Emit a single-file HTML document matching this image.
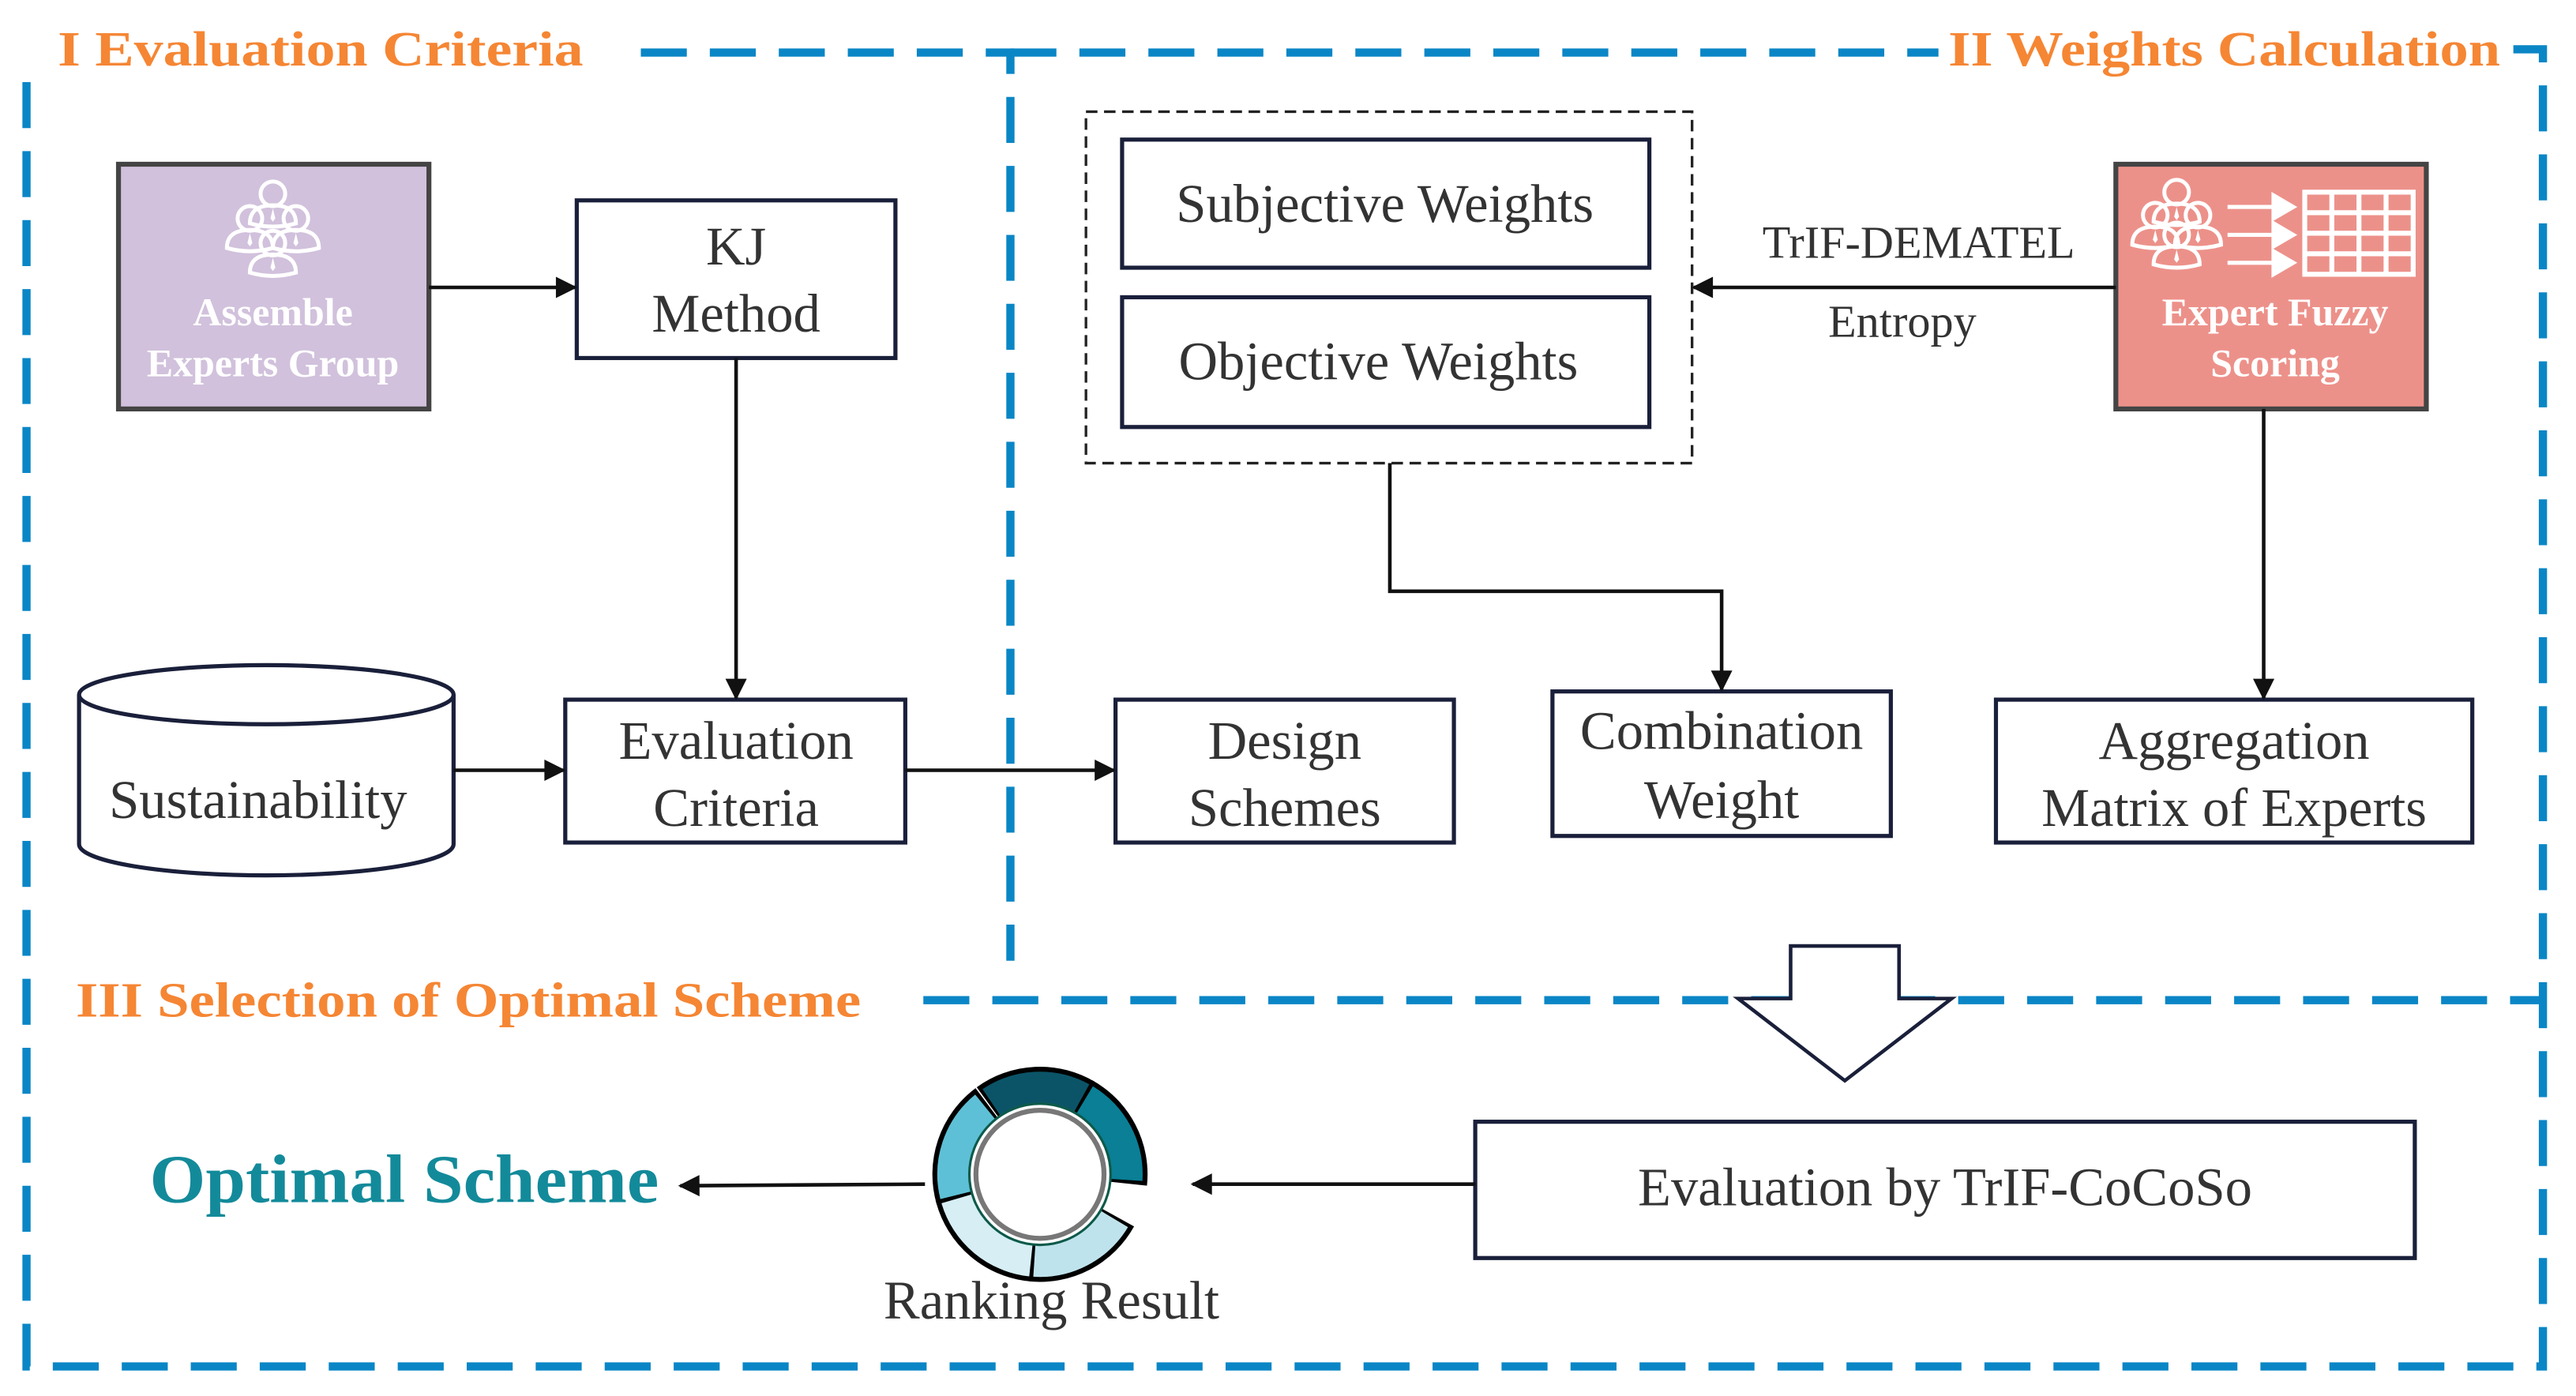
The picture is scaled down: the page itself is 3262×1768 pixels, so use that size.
<!DOCTYPE html>
<html><head><meta charset="utf-8"><style>html,body{margin:0;padding:0;background:#fff}svg{display:block}svg text{font-family:"Liberation Serif","Times New Roman","Nimbus Roman","DejaVu Serif",serif}</style></head>
<body>
<svg width="3262" height="1768" viewBox="0 0 1568 850" xmlns="http://www.w3.org/2000/svg">
<defs>
<marker id="ah" viewBox="0 0 10 10" refX="9" refY="5" markerWidth="14" markerHeight="13" orient="auto-start-reverse" markerUnits="userSpaceOnUse" style="overflow:visible">
<path d="M0,0 L10,5 L0,10 z" fill="#111"/></marker>
<g id="person"><circle cx="0" cy="-9" r="7.5" fill="none" stroke="#fff" stroke-width="2.4"/><path d="M-14,9 Q-14,-2 0,-2 Q14,-2 14,9 Q0,13 -14,9z" fill="none" stroke="#fff" stroke-width="2.4"/><path d="M0,0 L-1.5,6 L0,8 L1.5,6z" fill="#fff"/></g>
</defs>
<rect width="1568" height="850" fill="#fff"/>
<g stroke="#0a86c6" stroke-width="5" fill="none" stroke-dasharray="28 14">
<path d="M16,50 L16,832 L1548,832 L1548,30 L1530,30"/>
<path d="M390,32 L615,32 L615,585"/>
<path d="M615,32 L1180,32"/>
<path d="M562,609 L1548,609"/>
</g>
<g font-weight="bold" fill="#f58634" font-size="30">
<text x="35" y="40" textLength="320" lengthAdjust="spacingAndGlyphs">I Evaluation  Criteria</text>
<text x="1186" y="40" textLength="336" lengthAdjust="spacingAndGlyphs">II Weights Calculation</text>
<text x="46" y="619" textLength="478" lengthAdjust="spacingAndGlyphs">III Selection of Optimal Scheme</text>
</g>
<rect x="72" y="100" width="189" height="149" fill="#d1c1dc" stroke="#444" stroke-width="3"/>
<g transform="translate(166,148)"><use href="#person" x="-14" y="-6"/><use href="#person" x="14" y="-6"/><use href="#person" x="0" y="-21"/><use href="#person" x="0" y="9"/></g>
<g fill="#fff" font-weight="bold" font-size="24" text-anchor="middle"><text x="166" y="198">Assemble</text><text x="166" y="229">Experts Group</text></g>
<rect x="1288" y="100" width="189" height="149" fill="#ec918a" stroke="#444" stroke-width="3"/>
<g transform="translate(1325,142)"><use href="#person" x="-13" y="-2"/><use href="#person" x="13" y="-2"/><use href="#person" x="0" y="-16"/><use href="#person" x="0" y="10"/></g>
<g stroke="#fff" stroke-width="2.5" fill="#fff"><line x1="1356" y1="126" x2="1385" y2="126"/><line x1="1356" y1="143" x2="1385" y2="143"/><line x1="1356" y1="160" x2="1385" y2="160"/>
<path d="M1384,119 L1396,126 L1384,133z M1384,136 L1396,143 L1384,150z M1384,153 L1396,160 L1384,167z"/></g>
<g fill="none" stroke="#fff" stroke-width="3"><rect x="1403" y="117" width="66" height="50"/><path d="M1403,129.5 H1469 M1403,142 H1469 M1403,154.5 H1469 M1419.5,117 V167 M1436,117 V167 M1452.5,117 V167"/></g>
<g fill="#fff" font-weight="bold" font-size="24" text-anchor="middle"><text x="1385" y="198">Expert Fuzzy</text><text x="1385" y="229">Scoring</text></g>
<g fill="#fff" stroke="#1a1f3a" stroke-width="2.5">
<rect x="351" y="122" width="194" height="96"/>
<rect x="683" y="85" width="321" height="78"/>
<rect x="683" y="181" width="321" height="79"/>
<rect x="344" y="426" width="207" height="87"/>
<rect x="679" y="426" width="206" height="87"/>
<rect x="945" y="421" width="206" height="88"/>
<rect x="1215" y="426" width="290" height="87"/>
<rect x="898" y="683" width="572" height="83"/>
</g>
<rect x="661" y="68" width="369" height="214" fill="none" stroke="#222" stroke-width="1.6" stroke-dasharray="7 4"/>
<path d="M48,423 L48,514 A114,19 0 0 0 276,514 L276,423" fill="#fff" stroke="#1a1f3a" stroke-width="2.5"/>
<ellipse cx="162" cy="423" rx="114" ry="18" fill="#fff" stroke="#1a1f3a" stroke-width="2.5"/>
<g fill="#333" font-size="33" text-anchor="middle">
<text x="448" y="161">KJ</text><text x="448" y="202">Method</text>
<text x="843" y="135">Subjective Weights</text>
<text x="839" y="231">Objective Weights</text>
<text x="157" y="498">Sustainability</text>
<text x="448" y="462">Evaluation</text><text x="448" y="503">Criteria</text>
<text x="782" y="462">Design</text><text x="782" y="503">Schemes</text>
<text x="1048" y="456">Combination</text><text x="1048" y="498">Weight</text>
<text x="1360" y="462">Aggregation</text><text x="1360" y="503">Matrix of Experts</text>
<text x="1184" y="734">Evaluation by TrIF-CoCoSo</text>
<text x="640" y="803">Ranking Result</text>
</g>
<g fill="#333" font-size="28" text-anchor="middle"><text x="1168" y="157">TrIF-DEMATEL</text><text x="1158" y="205">Entropy</text></g>
<text x="91" y="732" fill="#138a9a" font-weight="bold" font-size="42" textLength="310" lengthAdjust="spacingAndGlyphs">Optimal Scheme</text>
<g stroke="#111" stroke-width="2.2" fill="none" marker-end="url(#ah)">
<line x1="261" y1="175" x2="350" y2="175"/>
<line x1="448" y1="218" x2="448" y2="425"/>
<line x1="276" y1="469" x2="343" y2="469"/>
<line x1="551" y1="469" x2="678" y2="469"/>
<line x1="1288" y1="175" x2="1031" y2="175"/>
<polyline points="846,282 846,360 1048,360 1048,420"/>
<line x1="1378" y1="249" x2="1378" y2="425"/>
<line x1="898" y1="721" x2="726" y2="721"/>
<line x1="563" y1="721" x2="414" y2="722"/>
</g>
<polygon points="1090,576 1156,576 1156,608 1188,608 1123,658 1058,608 1090,608" fill="#fff" stroke="#1a1f3a" stroke-width="2.2"/>
<g transform="translate(633,715)" fill="none">
<g stroke="#000" stroke-width="25">
<circle r="53" stroke-dasharray="62 400" transform="rotate(-126)"/>
<circle r="53" stroke-dasharray="62 400" transform="rotate(-61)"/>
<circle r="53" stroke-dasharray="62 400" transform="rotate(29)"/>
<circle r="53" stroke-dasharray="66.5 400" transform="rotate(94)"/>
<circle r="53" stroke-dasharray="64 400" transform="rotate(164)"/>
</g>
<g stroke-width="19">
<circle r="53" stroke="#0b5468" stroke-dasharray="58 400" transform="rotate(-124)"/>
<circle r="53" stroke="#0a7f95" stroke-dasharray="58 400" transform="rotate(-59)"/>
<circle r="53" stroke="#bfe3ec" stroke-dasharray="58 400" transform="rotate(31)"/>
<circle r="53" stroke="#d6eef4" stroke-dasharray="62.5 400" transform="rotate(96)"/>
<circle r="53" stroke="#5ec0d6" stroke-dasharray="60 400" transform="rotate(166)"/>
</g>
<circle r="43" fill="#fff" stroke="#0d5a4a" stroke-width="1.5"/>
<circle r="39" fill="#fff" stroke="#777" stroke-width="3"/>
</g>
</svg>
</body></html>
